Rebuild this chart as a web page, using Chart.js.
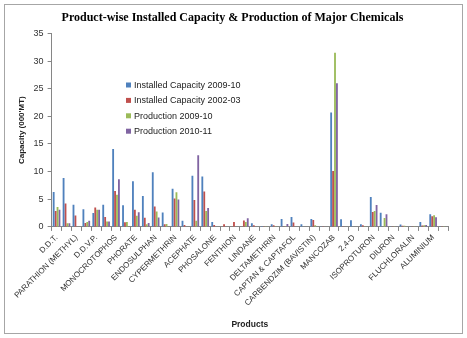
<!DOCTYPE html>
<html>
<head>
<meta charset="utf-8">
<script src="https://cdn.jsdelivr.net/npm/chart.js@4"></script>
<style>
  html, body { margin: 0; padding: 0; background: #fff; }
  .chart__wrapper { position: relative; width: 467px; height: 338px; }
</style>
</head>
<body>
<div class="chart__wrapper">
  <canvas id="capacity-chart" width="467" height="338"></canvas>
</div>
<script>
  // categories (only every other one carries a visible tick label)
  const products = [
    "D.D.T.", "MALATHION", "PARATHION (METHYL)", "DIMETHOATE", "D.D.V.P.",
    "QUINALPHOS", "MONOCROTOPHOS", "PHOSPHAMIDON", "PHORATE", "ETHION",
    "ENDOSULPHAN", "FENVALERATE", "CYPERMETHRIN", "CHLORPYRIPHOS", "ACEPHATE",
    "TRIAZOPHOS", "PHOSALONE", "FENITROTHION", "FENTHION", "DICOFOL",
    "LINDANE", "ALPHAMETHRIN", "DELTAMETHRIN", "ZINEB", "CAPTAN & CAPTAFOL",
    "ZIRAM", "CARBENDZIM (BAVISTIN)", "THIRAM", "MANCOZAB", "COPPER OXYCHLORIDE",
    "2,4-D", "BUTACHLOR", "ISOPROTURON", "ANILOPHOS", "DIURON",
    "PENDIMETHALIN", "FLUCHLORALIN", "METOXURON", "ALUMINIUM", "ZINC PHOSPHIDE"
  ];

  const installed2009 = [
    6.3, 8.85, 4.0, 3.2, 2.5, 4.0, 14.1, 3.9, 8.25, 5.6,
    9.9, 2.6, 6.9, 1.1, 9.25, 9.1, 0.9, 0, 0, 0,
    0.65, 0.15, 0.5, 1.45, 1.8, 0.5, 1.45, 0.1, 20.7, 1.4,
    1.2, 0.5, 5.4, 2.55, 0.1, 0.45, 0.1, 0.9, 2.3, 0.05
  ];
  const installed2002 = [
    2.9, 4.25, 2.05, 0.7, 3.5, 1.8, 6.5, 0.85, 3.1, 1.65,
    3.7, 0.5, 5.15, 0.35, 4.85, 6.4, 0.35, 0.5, 0.9, 1.15,
    0.3, 0.1, 0.3, 0.1, 0.8, 0, 1.25, 0.1, 10.1, 0.1,
    0, 0.3, 2.7, 0, 0.1, 0.2, 0.1, 0.25, 1.95, 0.05
  ];
  const production2009 = [
    3.6, 0.65, 0, 0.9, 3.1, 1.0, 5.8, 0.9, 2.0, 0.5,
    2.8, 0.55, 6.25, 0, 1.1, 2.9, 0, 0, 0, 0.9,
    0, 0.1, 0.1, 0.1, 0, 0, 0.3, 0, 31.5, 0,
    0, 0.1, 2.9, 1.6, 0.1, 0.2, 0.1, 0.3, 2.1, 0.05
  ];
  const production2010 = [
    3.1, 0.65, 0, 1.1, 3.1, 1.0, 8.6, 0, 2.65, 0.7,
    1.7, 0, 4.95, 0, 12.95, 3.4, 0, 0, 0, 1.55,
    0, 0, 0, 0.55, 0, 0, 0, 0, 26.0, 0,
    0, 0, 3.95, 2.3, 0.1, 0, 0, 0.35, 1.75, 0
  ];

  const seriesNames = [
    "Installed Capacity 2009-10",
    "Installed Capacity 2002-03",
    "Production 2009-10",
    "Production 2010-11"
  ];
  const yTicks = [0, 5, 10, 15, 20, 25, 30, 35];

  const colors = {
    blue: "#4f81bd",
    red: "#c0504d",
    green: "#9bbb59",
    purple: "#8064a2",
    axis: "#868686",
    text: "#333333",
  };
  const FONT = "'Liberation Sans', Arial, sans-serif";

  // outer frame like the excel chart border
  const framePlugin = {
    id: "frame",
    beforeDraw(chart) {
      const ctx = chart.ctx;
      ctx.save();
      ctx.fillStyle = "#ffffff";
      ctx.fillRect(0, 0, chart.width, chart.height);
      ctx.strokeStyle = "#a6a6a6";
      ctx.lineWidth = 1;
      ctx.strokeRect(4.5, 4.5, 458, 329);
      ctx.restore();
    },
  };

  // legend sitting inside the plot area
  const insideLegend = {
    id: "insideLegend",
    afterDraw(chart) {
      const ctx = chart.ctx;
      const x = 126;
      const y0 = 85;
      const step = 15.4;
      ctx.save();
      ctx.font = "9px " + FONT;
      ctx.textBaseline = "middle";
      chart.data.datasets.forEach((ds, i) => {
        const y = y0 + i * step;
        ctx.fillStyle = ds.backgroundColor;
        ctx.fillRect(x, y - 2.5, 5, 5);
        ctx.fillStyle = "#222";
        ctx.fillText(ds.label, x + 8, y + 0.5);
      });
      ctx.restore();
    },
  };

  const ctx = document.getElementById("capacity-chart").getContext("2d");
  const seriesData = [installed2009, installed2002, production2009, production2010];
  const seriesColors = [colors.blue, colors.red, colors.green, colors.purple];

  new Chart(ctx, {
    type: "bar",
    data: {
      labels: products,
      datasets: seriesData.map((values, i) => ({
        label: seriesNames[i],
        data: values,
        backgroundColor: seriesColors[i],
        borderWidth: 0,
        categoryPercentage: 0.78,
        barPercentage: 0.95,
      })),
    },
    options: {
      responsive: false,
      animation: false,
      devicePixelRatio: 1,
      layout: { padding: { left: 17, right: 19, top: 0, bottom: 8 } },
      scales: {
        x: {
          grid: {
            drawOnChartArea: false,
            color: colors.axis,
            tickLength: 4,
            offset: true,
          },
          border: { color: colors.axis },
          ticks: {
            autoSkip: false,
            minRotation: 45,
            maxRotation: 45,
            padding: 2,
            color: colors.text,
            font: { family: FONT, size: 8 },
            callback(value, index) {
              return index % 2 === 0 ? this.getLabelForValue(value) : "";
            },
          },
          title: {
            display: true,
            text: "Products",
            color: "#222",
            font: { family: FONT, size: 8.5, weight: "bold" },
            padding: { top: 10, bottom: 0 },
          },
        },
        y: {
          min: 0,
          max: 35,
          afterBuildTicks(axis) {
            axis.ticks = yTicks.map((v) => ({ value: v }));
          },
          grid: {
            drawOnChartArea: false,
            color: colors.axis,
            tickLength: 4,
          },
          border: { color: colors.axis },
          ticks: {
            padding: 4,
            color: colors.text,
            font: { family: FONT, size: 9 },
          },
          title: {
            display: true,
            text: "Capacity (000'MT)",
            color: "#222",
            font: { family: FONT, size: 8, weight: "bold" },
            padding: { top: 0, bottom: 3 },
          },
        },
      },
      plugins: {
        title: {
          display: true,
          text: "Product-wise Installed Capacity & Production of Major Chemicals",
          color: "#000",
          font: { family: "'Liberation Serif', 'Times New Roman', serif", size: 12, weight: "bold" },
          padding: { top: 11, bottom: 8 },
        },
        legend: { display: false },
        tooltip: { enabled: false },
      },
    },
    plugins: [framePlugin, insideLegend],
  });
</script>
</body>
</html>
